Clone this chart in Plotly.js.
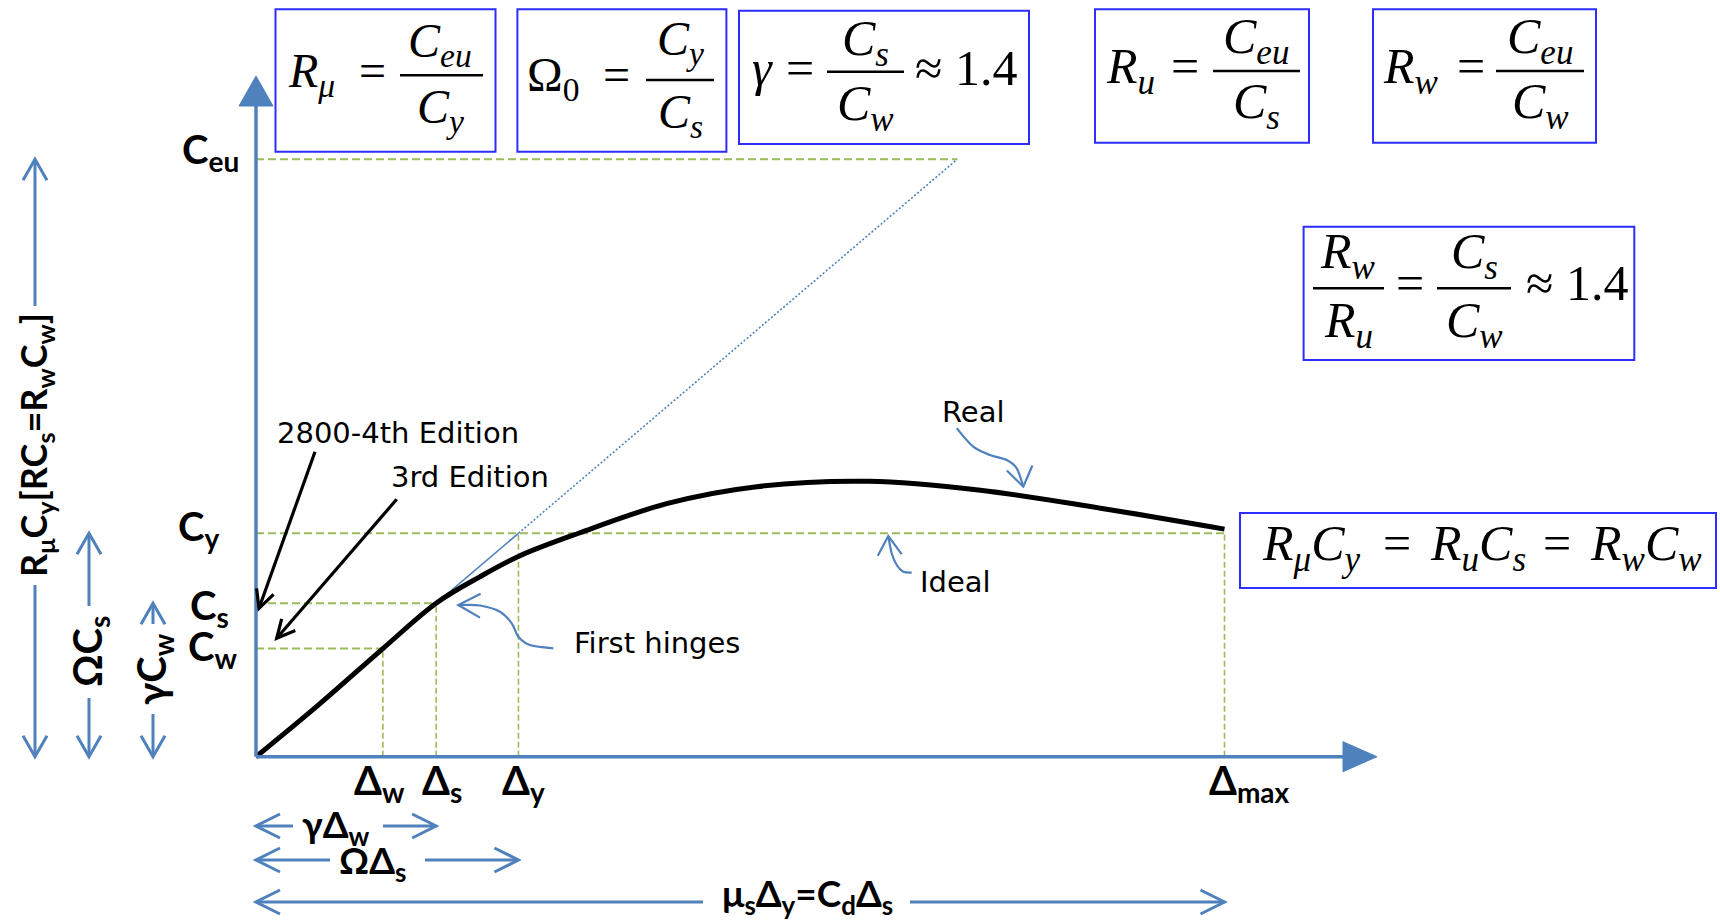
<!DOCTYPE html>
<html><head><meta charset="utf-8">
<script src="https://cdn.plot.ly/plotly-3.0.1.min.js"></script>
<style>html,body{margin:0;padding:0;background:#fff;} #chart{width:1720px;height:920px;}</style>
</head><body><div id="chart"></div>
<script>
// ---------------- data (x: displacement, Δmax = 100 ; y: base shear coefficient, Ceu = 100) ----------------
const deltaNames  = ['Δ<sub>w</sub>', 'Δ<sub>s</sub>', 'Δ<sub>y</sub>', 'Δ<sub>max</sub>'];
const deltaValues = [13.1, 18.6, 27.1, 100];
const forceNames  = ['C<sub>w</sub>', 'C<sub>s</sub>', 'C<sub>y</sub>', 'C<sub>eu</sub>'];
const forceValues = [18.1, 25.7, 37.4, 100];
const elasticReachX = 72.4;           // displacement where the elastic line reaches Ceu
const realX = [0, 6.4, 13.1, 18.6, 23.1, 27.2, 33.3, 42.5, 51.7, 63.3, 74.8, 87.2, 100];
const realY = [0, 8.6, 18.1, 25.7, 30.1, 33.6, 37.4, 42.4, 45.2, 46.1, 44.6, 41.6, 38.1];

// ---------------- geometry ----------------
const W = 1720, H = 920;
const OX = 256, OY = 756.7, PXX = 9.685, PXY = 5.974;
const xr = [-OX / PXX, (W - OX) / PXX];
const yr = [-(H - OY) / PXY, OY / PXY];
const xPx = x => OX + x * PXX;
const yPx = y => OY - y * PXY;
const pxX = p => (p - OX) / PXX;
const pyY = p => (OY - p) / PXY;
const fx = p => p / W;
const fy = p => 1 - p / H;

const [dW, dS, dY, dMax] = deltaValues;
const [cW, cS, cY, cEu] = forceValues;

const BLUE = '#4f81bd', GREEN = '#9bbb59', BOXC = 'rgb(45,45,255)';

// ---------------- traces ----------------
const traces = [];
traces.push({ x: [0, dW, null, 0, dS, null, 0, dMax, null, 0, elasticReachX],
  y: [cW, cW, null, cS, cS, null, cY, cY, null, cEu, cEu],
  mode: 'lines', line: { color: GREEN, width: 2, dash: '8px,4px' }, hoverinfo: 'skip' });
traces.push({ x: [dW, dW, null, dS, dS, null, dY, dY, null, dMax, dMax],
  y: [0, cW, null, 0, cS, null, 0, cY, null, 0, cY],
  mode: 'lines', line: { color: GREEN, width: 1.6, dash: '6px,3px' }, hoverinfo: 'skip' });
traces.push({ x: [0, dY], y: [0, cY], mode: 'lines', line: { color: BLUE, width: 1.6 }, hoverinfo: 'skip' });
traces.push({ x: [dY, elasticReachX], y: [cY, cEu], mode: 'lines', line: { color: BLUE, width: 1.6, dash: '2px,2px' }, hoverinfo: 'skip' });
traces.push({ x: realX, y: realY, mode: 'lines', line: { color: '#000', width: 5, shape: 'spline', smoothing: 1 }, hoverinfo: 'skip' });
// axes
const axXEnd = pxX(1343), axXTip = pxX(1377), axYEnd = pyY(106), axYTip = pyY(76);
traces.push({ x: [0, axXEnd], y: [0, 0], mode: 'lines', line: { color: BLUE, width: 3.5 }, hoverinfo: 'skip' });
traces.push({ x: [0, 0], y: [0, axYEnd], mode: 'lines', line: { color: BLUE, width: 3.5 }, hoverinfo: 'skip' });
traces.push({ x: [axXEnd, axXTip, axXEnd, axXEnd], y: [15 / PXY, 0, -15 / PXY, 15 / PXY], mode: 'lines', fill: 'toself',
  fillcolor: BLUE, line: { color: BLUE, width: 1 }, hoverinfo: 'skip' });
traces.push({ x: [-17 / PXX, 0, 17 / PXX, -17 / PXX], y: [axYEnd, axYTip, axYEnd, axYEnd], mode: 'lines', fill: 'toself',
  fillcolor: BLUE, line: { color: BLUE, width: 1 }, hoverinfo: 'skip' });

// ---------------- decorations ----------------
const shapes = [];
const annotations = [];
const P = (x, y) => fx(x) + ' ' + fy(y);
function polyPath(pts) { return 'M ' + pts.map(p => P(p[0], p[1])).join(' L '); }
function smoothPath(pts) {
  let d = 'M ' + P(pts[0][0], pts[0][1]);
  for (let i = 0; i < pts.length - 1; i++) {
    const p0 = pts[i - 1] || pts[i], p1 = pts[i], p2 = pts[i + 1], p3 = pts[i + 2] || pts[i + 1];
    const c1 = [p1[0] + (p2[0] - p0[0]) / 6, p1[1] + (p2[1] - p0[1]) / 6];
    const c2 = [p2[0] - (p3[0] - p1[0]) / 6, p2[1] - (p3[1] - p1[1]) / 6];
    d += ' C ' + P(c1[0], c1[1]) + ', ' + P(c2[0], c2[1]) + ', ' + P(p2[0], p2[1]);
  }
  return d;
}
function addPath(d, color, width) {
  shapes.push({ type: 'path', xref: 'paper', yref: 'paper', path: d, line: { color, width }, fillcolor: 'rgba(0,0,0,0)' });
}
function chevron(tip, from, color, width, len, half) {
  const dx = tip[0] - from[0], dy = tip[1] - from[1], L = Math.hypot(dx, dy);
  const ux = dx / L, uy = dy / L, nx = -uy, ny = ux;
  const a = [tip[0] - ux * len + nx * half, tip[1] - uy * len + ny * half];
  const b = [tip[0] - ux * len - nx * half, tip[1] - uy * len - ny * half];
  addPath(polyPath([a, tip, b]), color, width);
}
function seg(a, b, color, width) { addPath(polyPath([a, b]), color, width); }

// vertical double arrows on the left: [x, topTip, gapTop, gapBottom]
const vArrows = [[35, yPx(cEu), 306, 585], [89, yPx(cY), 606, 698], [153, yPx(cS), 624, 714]];
vArrows.forEach(([x, t, g1, g2]) => {
  const b = yPx(0);
  seg([x, t], [x, g1], BLUE, 3); seg([x, g2], [x, b], BLUE, 3);
  chevron([x, t], [x, t + 10], BLUE, 3, 21, 12);
  chevron([x, b], [x, b - 10], BLUE, 3, 21, 12);
});
// horizontal double arrows at the bottom: [y, gapLeft, gapRight, rightTip]
const hArrows = [[826, 293, 383, xPx(dS)], [860, 330, 425, xPx(dY)], [902, 703, 910, xPx(dMax)]];
hArrows.forEach(([y, g1, g2, r]) => {
  const l = xPx(0);
  seg([l, y], [g1, y], BLUE, 3); seg([g2, y], [r, y], BLUE, 3);
  chevron([l, y], [l + 10, y], BLUE, 3, 24, 12);
  chevron([r, y], [r - 10, y], BLUE, 3, 24, 12);
});

// curly pointer arrows
const realPath = [[956.7, 428.3], [973.3, 446.7], [990, 455], [1006.7, 460], [1016.7, 468.3], [1023.3, 486.7]];
addPath(smoothPath(realPath), BLUE, 2.2);
chevron([1023.3, 486.7], [1020, 470], BLUE, 2.2, 19, 13);
const idealPath = [[911.7, 572.7], [903.3, 571.7], [896.7, 565], [891.7, 553.3], [888.3, 536]];
addPath(smoothPath(idealPath), BLUE, 2.2);
chevron([888.3, 536], [889.5, 552], BLUE, 2.2, 19, 12);
const hingePath = [[553.3, 648.3], [530, 645], [518.3, 636.7], [511.7, 623.3], [500, 611.7], [480, 605.5], [459, 605]];
addPath(smoothPath(hingePath), BLUE, 2.2);
chevron([458.3, 605], [475, 605.5], BLUE, 2.2, 22, 12);

// edition pointer arrows (black)
[[[315, 451.7], [259, 608.3]], [[396.7, 499.3], [276.7, 638.3]]].forEach(([tail, tip]) => {
  seg(tail, tip, '#000', 3.2);
  chevron(tip, tail, '#000', 3.2, 18, 9);
});

// formula boxes
const boxes = [[275.5, 495.5, 9.3, 151.7], [517.4, 726.4, 9.3, 151.7], [739, 1029, 10.7, 144], [1095, 1309, 9.3, 142.7],
  [1373, 1596, 9.3, 142.7], [1303.6, 1634.3, 226.7, 360], [1240, 1716, 513, 588]];
boxes.forEach(([x0, x1, y0, y1]) => shapes.push({ type: 'rect', xref: 'paper', yref: 'paper',
  x0: fx(x0), x1: fx(x1), y0: fy(y1), y1: fy(y0), line: { color: BOXC, width: 2 } }));
const bars = [[400, 483, 75.3], [646, 714, 80], [827, 904, 71.7], [1213, 1300, 71], [1496, 1584, 71], [1313, 1384, 288.3], [1437, 1511, 288.3]];
bars.forEach(([x0, x1, y]) => seg([x0, y], [x1, y], '#000', 2.5));

const SERIF = 'Liberation Serif, Times New Roman, serif';
const eqs = [
  ['<i>R</i><sub><i>μ</i></sub>', 286, 87, 48, 'left', 1], ['=', 372, 87, 48, 'center', 0],
  ['<i>C</i><sub><i>eu</i></sub>', 440, 57, 48, 'center', 1], ['<i>C</i><sub><i>y</i></sub>', 440, 123, 48, 'center', 1],
  ['Ω<sub>0</sub>', 525, 91, 48, 'left', 1], ['=', 616, 91, 48, 'center', 0],
  ['<i>C</i><sub><i>y</i></sub>', 680, 55, 48, 'center', 1], ['<i>C</i><sub><i>s</i></sub>', 680, 128, 48, 'center', 1],
  ['<i>γ</i>', 750, 85, 50, 'left', 0], ['=', 800, 85, 50, 'center', 0],
  ['<i>C</i><sub><i>s</i></sub>', 866, 55, 50, 'center', 1], ['<i>C</i><sub><i>w</i></sub>', 866, 120, 50, 'center', 1],
  ['≈ 1.4', 913, 85, 50, 'left', 0],
  ['<i>R</i><sub><i>u</i></sub>', 1104, 83, 50, 'left', 1], ['=', 1185, 83, 50, 'center', 0],
  ['<i>C</i><sub><i>eu</i></sub>', 1256, 53, 50, 'center', 1], ['<i>C</i><sub><i>s</i></sub>', 1256, 118, 50, 'center', 1],
  ['<i>R</i><sub><i>w</i></sub>', 1381, 83, 50, 'left', 1], ['=', 1471, 83, 50, 'center', 0],
  ['<i>C</i><sub><i>eu</i></sub>', 1540, 53, 50, 'center', 1], ['<i>C</i><sub><i>w</i></sub>', 1540, 118, 50, 'center', 1],
  ['<i>R</i><sub><i>w</i></sub>', 1348, 268, 50, 'center', 1], ['<i>R</i><sub><i>u</i></sub>', 1348, 337, 50, 'center', 1],
  ['=', 1410, 300, 50, 'center', 0],
  ['<i>C</i><sub><i>s</i></sub>', 1474, 268, 50, 'center', 1], ['<i>C</i><sub><i>w</i></sub>', 1474, 337, 50, 'center', 1],
  ['≈ 1.4', 1524, 300, 50, 'left', 0],
  ['<i>R</i><sub><i>μ</i></sub><i>C</i><sub><i>y</i></sub>', 1311, 560, 50, 'center', 1], ['=', 1397, 560, 50, 'center', 0],
  ['<i>R</i><sub><i>u</i></sub><i>C</i><sub><i>s</i></sub>', 1478, 560, 50, 'center', 1], ['=', 1557, 560, 50, 'center', 0],
  ['<i>R</i><sub><i>w</i></sub><i>C</i><sub><i>w</i></sub>', 1646, 560, 50, 'center', 1]
];
eqs.forEach(([t, x, base, s, anc, sub]) => annotations.push({ xref: 'paper', yref: 'paper', x: fx(x),
  y: fy(base - (sub ? 0.265 : 0.3375) * s), xanchor: anc, yanchor: 'middle', text: t, showarrow: false,
  font: { family: SERIF, size: s, color: '#000' } }));

// bold math labels
const SANS = 'Lato, Noto Sans, sans-serif';
const LS = 40;
const forceRight = [239, 231, 221, 241], forceShift = [0.5, -4.5, 4.5, 8];
forceNames.forEach((t, i) => annotations.push({ xref: 'paper', yref: 'y', x: fx(forceRight[i]), y: forceValues[i],
  yshift: forceShift[i], xanchor: 'right', yanchor: 'middle', text: '<b>' + t + '</b>', showarrow: false,
  font: { family: SANS, size: LS, color: '#000' } }));
const deltaShift = [-3, 6, 5.5, 24.5];
deltaNames.forEach((t, i) => annotations.push({ xref: 'x', yref: 'paper', x: deltaValues[i], y: fy(782),
  xshift: deltaShift[i], xanchor: 'center', yanchor: 'middle', text: '<b>' + t + '</b>', showarrow: false,
  font: { family: SANS, size: LS, color: '#000' } }));
const sideLabels = [['R<sub>μ</sub>C<sub>y</sub>[RC<sub>s</sub>=R<sub>w</sub>C<sub>w</sub>]', 35, 445, -90, 36],
  ['ΩC<sub>s</sub>', 89, 652, -90, 40], ['γC<sub>w</sub>', 153, 669, -90, 40],
  ['γΔ<sub>w</sub>', 336, 826, 0, 37], ['ΩΔ<sub>s</sub>', 372, 862, 0, 37],
  ['μ<sub>s</sub>Δ<sub>y</sub>=C<sub>d</sub>Δ<sub>s</sub>', 807, 895, 0, 37]];
sideLabels.forEach(([t, x, y, a, s]) => annotations.push({ xref: 'paper', yref: 'paper', x: fx(x), y: fy(y), textangle: a,
  xanchor: 'center', yanchor: 'middle', text: '<b>' + t + '</b>', showarrow: false, borderpad: 0,
  font: { family: SANS, size: s, color: '#000' } }));

// plain text notes
const NOTE = 'DejaVu Sans, Verdana, sans-serif';
const notes = [['2800-4th Edition', 398, 433], ['3rd Edition', 470, 477], ['Real', 973, 412], ['Ideal', 955, 582], ['First hinges', 657, 643]];
notes.forEach(([t, x, y]) => annotations.push({ xref: 'paper', yref: 'paper', x: fx(x), y: fy(y), xanchor: 'center',
  yanchor: 'middle', text: t, showarrow: false, font: { family: NOTE, size: 29, color: '#000' } }));

const layout = {
  width: W, height: H, margin: { l: 0, r: 0, t: 0, b: 0 }, paper_bgcolor: '#fff', plot_bgcolor: '#fff',
  showlegend: false,
  xaxis: { range: xr, visible: false, fixedrange: true },
  yaxis: { range: yr, visible: false, fixedrange: true },
  shapes, annotations
};
Plotly.newPlot('chart', traces, layout, { staticPlot: true, displayModeBar: false });
</script></body></html>
